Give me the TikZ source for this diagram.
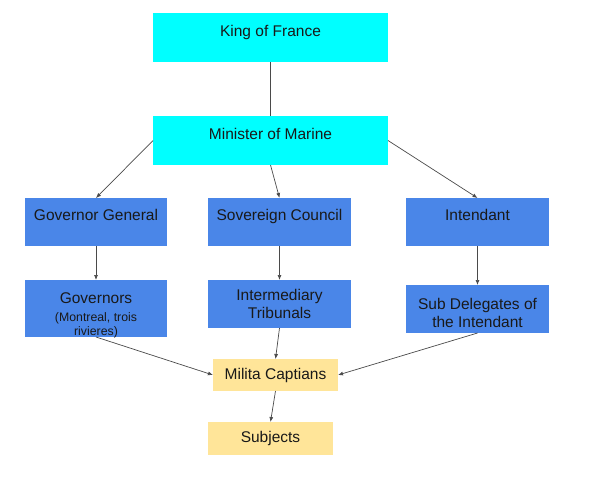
\documentclass[tikz,border=0pt]{standalone}
\usepackage{fontspec}
\setmainfont{Liberation Sans}
\usetikzlibrary{arrows.meta,positioning}
\definecolor{royalcyan}{HTML}{00FFFF}
\definecolor{officeblue}{HTML}{4A86E8}
\definecolor{localyellow}{HTML}{FFE599}
\definecolor{linkgray}{HTML}{4A4A4A}
\newcommand{\boxfont}{\fontsize{15.5}{18}\selectfont}
\newcommand{\notefont}{\fontsize{12.3}{14}\selectfont}

\begin{document}
\begin{tikzpicture}[x=1pt,y=1pt,>={Latex[length=5pt,width=4pt]},
box/.style={draw=none,outer sep=0pt,inner sep=2pt,align=center,font=\boxfont,text=black!90},
royal/.style={box,fill=royalcyan,minimum width=235pt,minimum height=49pt},
office/.style={box,fill=officeblue,minimum width=143pt,minimum height=48pt},
local/.style={box,fill=localyellow,minimum width=125pt,minimum height=32pt},
lifted/.style={text depth=14pt},
link/.style={->,draw=linkgray,line width=0.7pt}]
\useasboundingbox (0,0) rectangle (589,-480);
\node[royal,lifted] (king) at (270.5,-37.5) {King of France};
\node[royal,lifted,below=54pt of king] (min) {Minister of Marine};
\node[office,lifted,below=33pt of min,xshift=9pt] (sc) {Sovereign Council};
\node[office,lifted,left=41pt of sc,minimum width=142pt] (gg) {Governor General};
\node[office,lifted,right=55pt of sc] (int) {Intendant};
\node[office,below=34pt of gg,minimum width=142pt,minimum height=56pt,text depth=-10pt] (gov) {\rule{0pt}{21pt}Governors\\\notefont (Montreal, trois\\[-4pt]\notefont rivieres)};
\node[office,below=34pt of sc] (trib) {Intermediary\\Tribunals};
\node[office,below=39pt of int] (sub) {\rule{0pt}{19pt}Sub Delegates of\\the Intendant};
\node[local,below=31pt of trib,xshift=-4pt] (cap) {Milita Captians};
\node[local,below=31pt of cap,xshift=-5pt,minimum height=33pt] (subj) {Subjects};
\draw[link,-] (king) -- (min);
\draw[link] (min.west) -- (gg.north);
\draw[link] (min.south) -- (sc.north);
\draw[link] (min.east) -- (int.north);
\draw[link] (gg) -- (gov);
\draw[link] (sc) -- (trib);
\draw[link] (int) -- (sub);
\draw[link] (gov.south) -- (cap.west);
\draw[link] (trib.south) -- (cap.north);
\draw[link] (sub.south) -- (cap.east);
\draw[link] (cap.south) -- (subj.north);
\end{tikzpicture}
\end{document}
